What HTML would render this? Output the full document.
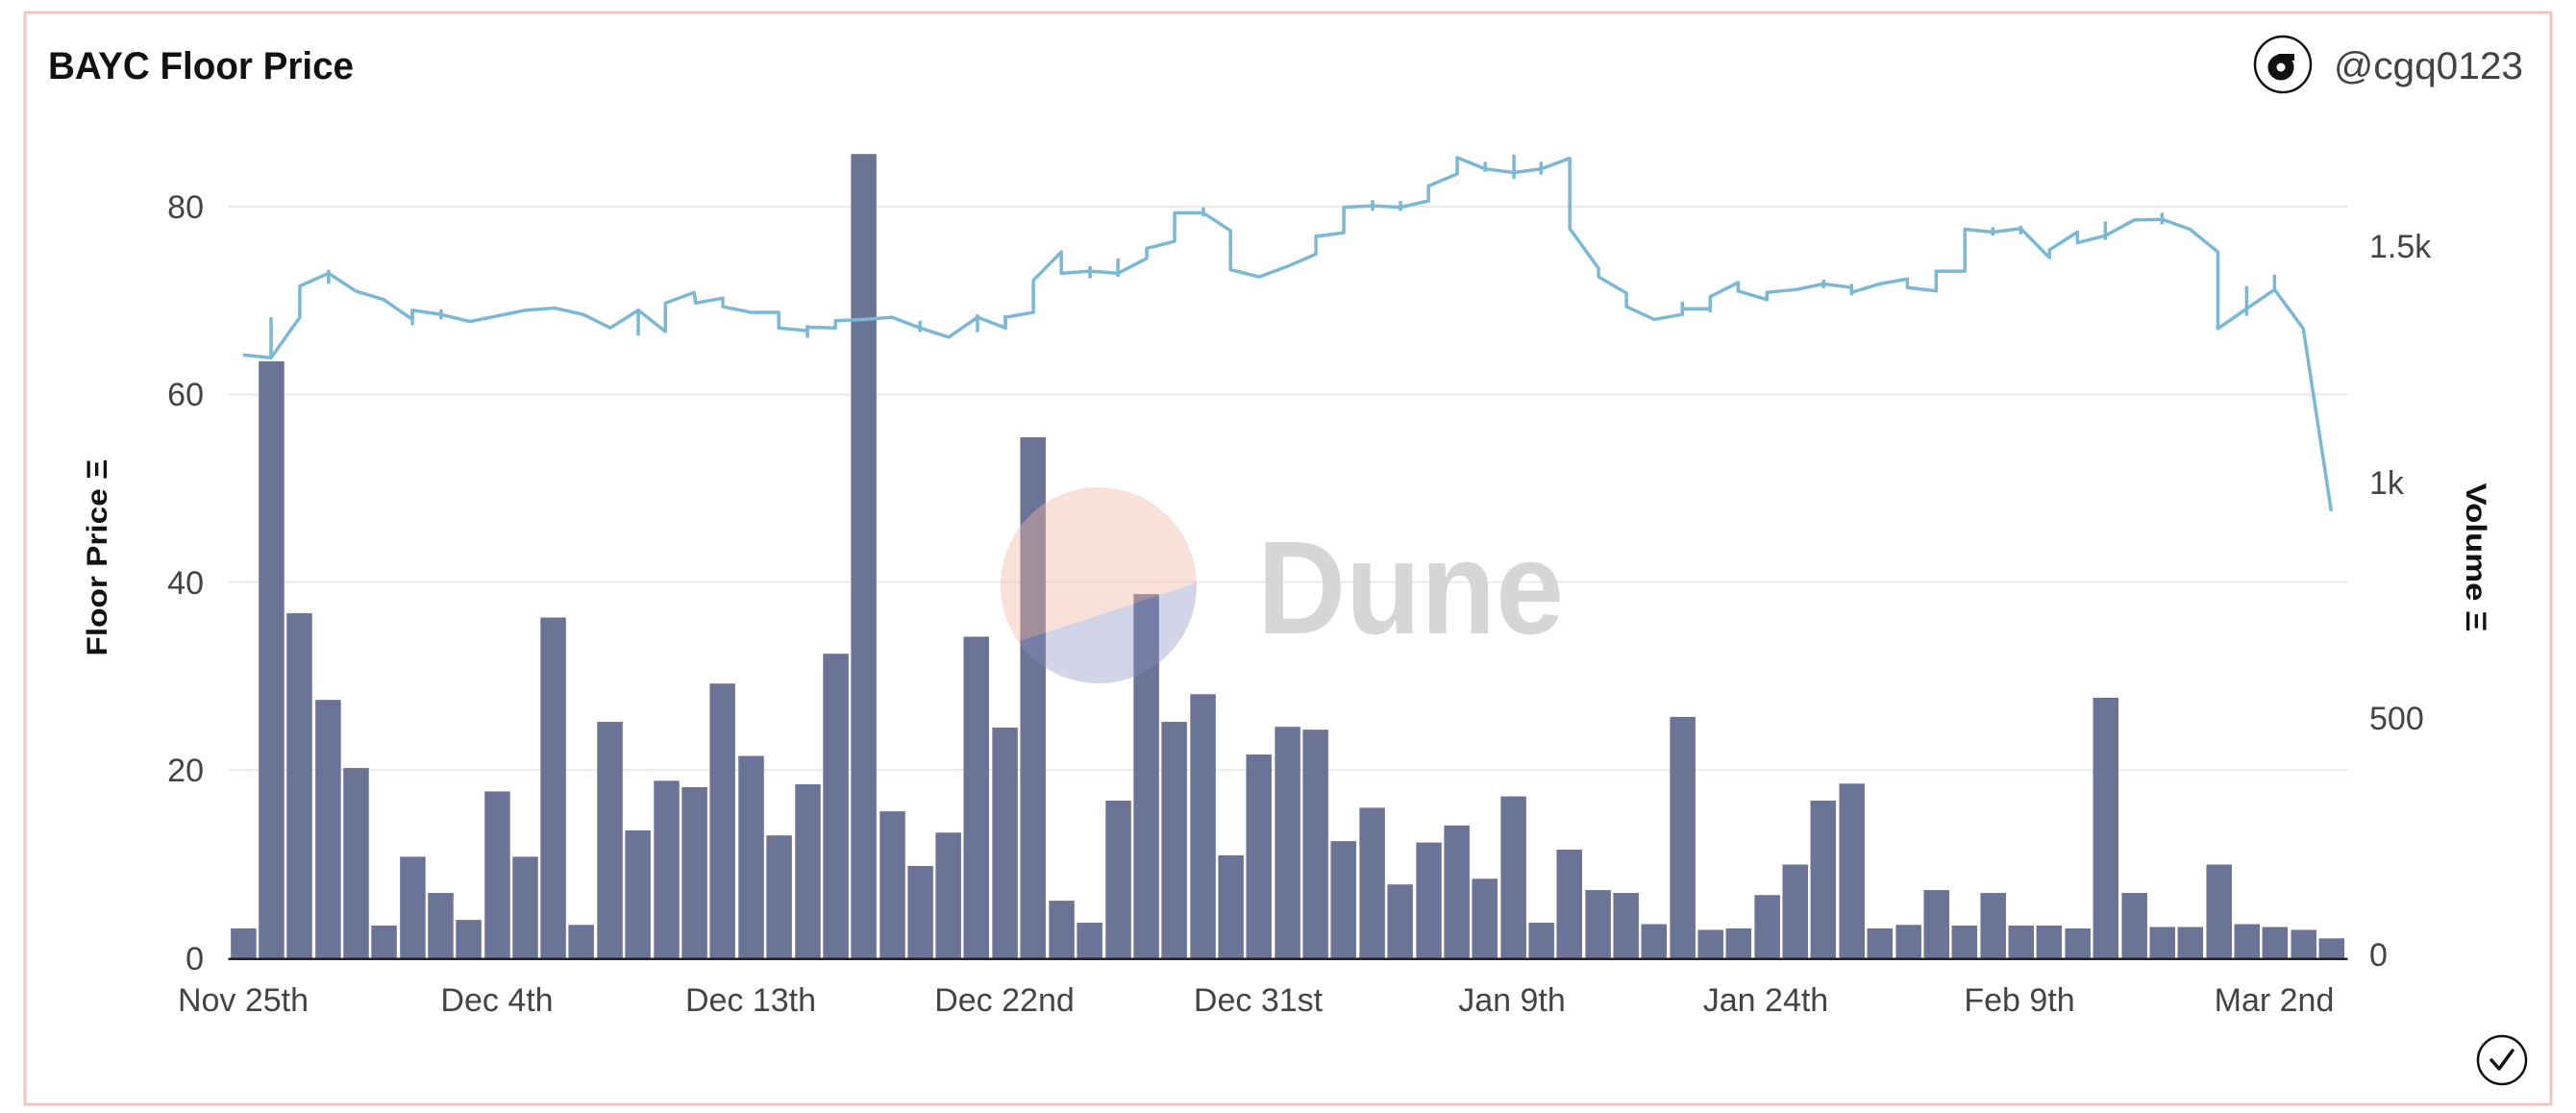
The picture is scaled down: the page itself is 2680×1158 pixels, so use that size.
<!DOCTYPE html>
<html><head><meta charset="utf-8"><style>
html,body{margin:0;padding:0;background:#fff;}
svg{display:block;}
text{font-family:"Liberation Sans",sans-serif;}
</style></head><body>
<svg width="2680" height="1158" viewBox="0 0 2680 1158" xmlns="http://www.w3.org/2000/svg">
<defs>
<clipPath id="cc"><circle cx="1143" cy="609" r="102"/></clipPath>
</defs>
<rect x="26" y="13" width="2628" height="1136" fill="#fff" stroke="#f0c4bc" stroke-width="3"/>
<text x="50" y="82" font-size="40" font-weight="bold" fill="#111" textLength="318" lengthAdjust="spacingAndGlyphs">BAYC Floor Price</text>
<circle cx="2375" cy="67" r="29" fill="#fff" stroke="#111" stroke-width="2.5"/>
<circle cx="2373" cy="70" r="9" fill="none" stroke="#111" stroke-width="9"/>
<rect x="2370" y="56" width="17" height="7" fill="#111"/>
<text x="2428" y="82" font-size="40" fill="#444" textLength="197" lengthAdjust="spacingAndGlyphs">@cgq0123</text>

<g transform="scale(0.8546,0.7385)">
<g stroke="#ebebeb" stroke-width="3">
<line x1="278" y1="291" x2="2858" y2="291"/><line x1="278" y1="556" x2="2858" y2="556"/>
<line x1="278" y1="820" x2="2858" y2="820"/><line x1="278" y1="1085" x2="2858" y2="1085"/>
</g>
<g fill="#6b7396">
<rect x="281" y="1308" width="31" height="42"/><rect x="315" y="509" width="31" height="841"/><rect x="349" y="864" width="31" height="486"/><rect x="384" y="986" width="31" height="364"/><rect x="418" y="1082" width="31" height="268"/><rect x="452" y="1304" width="31" height="46"/><rect x="487" y="1207" width="31" height="143"/><rect x="521" y="1258" width="31" height="92"/><rect x="555" y="1296" width="31" height="54"/><rect x="590" y="1115" width="31" height="235"/><rect x="624" y="1207" width="31" height="143"/><rect x="658" y="870" width="31" height="480"/><rect x="692" y="1303" width="31" height="47"/><rect x="727" y="1017" width="31" height="333"/><rect x="761" y="1170" width="31" height="180"/><rect x="796" y="1100" width="31" height="250"/><rect x="830" y="1109" width="31" height="241"/><rect x="864" y="963" width="31" height="387"/><rect x="899" y="1065" width="31" height="285"/><rect x="933" y="1177" width="31" height="173"/><rect x="968" y="1105" width="31" height="245"/><rect x="1002" y="921" width="31" height="429"/><rect x="1036" y="217" width="31" height="1133"/><rect x="1071" y="1143" width="31" height="207"/><rect x="1105" y="1220" width="31" height="130"/><rect x="1139" y="1173" width="31" height="177"/><rect x="1173" y="897" width="31" height="453"/><rect x="1208" y="1025" width="31" height="325"/><rect x="1242" y="616" width="31" height="734"/><rect x="1277" y="1269" width="31" height="81"/><rect x="1311" y="1300" width="31" height="50"/><rect x="1346" y="1128" width="31" height="222"/><rect x="1380" y="837" width="31" height="513"/><rect x="1414" y="1017" width="31" height="333"/><rect x="1449" y="978" width="31" height="372"/><rect x="1483" y="1205" width="31" height="145"/><rect x="1517" y="1063" width="31" height="287"/><rect x="1552" y="1024" width="31" height="326"/>
<rect x="1586" y="1028" width="31" height="322"/><rect x="1620" y="1185" width="31" height="165"/><rect x="1655" y="1138" width="31" height="212"/><rect x="1689" y="1246" width="31" height="104"/><rect x="1724" y="1187" width="31" height="163"/><rect x="1758" y="1163" width="31" height="187"/><rect x="1792" y="1238" width="31" height="112"/><rect x="1827" y="1122" width="31" height="228"/><rect x="1861" y="1300" width="31" height="50"/><rect x="1895" y="1197" width="31" height="153"/><rect x="1930" y="1254" width="31" height="96"/><rect x="1964" y="1258" width="31" height="92"/><rect x="1998" y="1302" width="31" height="48"/><rect x="2033" y="1010" width="31" height="340"/><rect x="2067" y="1310" width="31" height="40"/><rect x="2101" y="1308" width="31" height="42"/><rect x="2136" y="1261" width="31" height="89"/><rect x="2170" y="1218" width="31" height="132"/><rect x="2204" y="1128" width="31" height="222"/><rect x="2239" y="1104" width="31" height="246"/><rect x="2273" y="1308" width="31" height="42"/><rect x="2308" y="1303" width="31" height="47"/><rect x="2342" y="1254" width="31" height="96"/><rect x="2376" y="1304" width="31" height="46"/><rect x="2411" y="1258" width="31" height="92"/><rect x="2445" y="1304" width="31" height="46"/><rect x="2479" y="1304" width="31" height="46"/><rect x="2514" y="1308" width="31" height="42"/><rect x="2548" y="983" width="31" height="367"/><rect x="2583" y="1258" width="31" height="92"/><rect x="2617" y="1306" width="31" height="44"/><rect x="2651" y="1306" width="31" height="44"/><rect x="2686" y="1218" width="31" height="132"/><rect x="2720" y="1302" width="31" height="48"/><rect x="2754" y="1306" width="31" height="44"/><rect x="2789" y="1310" width="31" height="40"/><rect x="2823" y="1322" width="31" height="28"/>
</g>
<line x1="278" y1="1351" x2="2858" y2="1351" stroke="#222" stroke-width="2.5" vector-effect="non-scaling-stroke"/>
<g fill="none" stroke="#7ab8d6" stroke-width="3.5" vector-effect="non-scaling-stroke" stroke-linejoin="round">
<polyline vector-effect="non-scaling-stroke" points="296,500 330,504 365,447 365,403 400,385 433,410 467,422 502,450 502,437 537,443 572,453 606,445 640,437 675,434 710,443 743,462 777,437 810,467 810,427 845,412 847,427 880,420 880,432 914,440 948,440 948,462 983,466 983,461 1017,462 1017,452 1052,450 1086,447 1120,462 1155,475 1190,447 1224,462 1224,447 1258,440 1258,395 1292,355 1292,385 1327,382 1361,385 1396,364 1396,350 1430,340 1430,300 1465,300 1498,325 1498,380 1533,390 1568,375 1602,358 1602,333 1636,328 1636,292 1671,290 1705,292 1739,283 1739,262 1774,245 1774,222 1808,238 1843,243 1876,238 1911,223 1911,322 1946,378 1946,390 1980,413 1980,432 2014,450 2048,443 2048,435 2082,435 2082,418 2116,398 2116,410 2151,422 2151,412 2186,408 2220,400 2254,405 2254,412 2288,400 2322,393 2322,405 2357,410 2357,382 2392,382 2392,323 2426,327 2460,322 2495,363 2495,352 2529,327 2529,342 2563,332 2598,310 2632,309 2666,323 2700,355 2700,463 2735,435 2769,408 2804,463 2838,720"/>
<path vector-effect="non-scaling-stroke" d="M330 447V504 M400 380V400 M502 437V458 M537 436V450 M777 435V473 M983 458V476 M1120 452V468 M1190 443V468 M1224 444V464 M1327 375V392 M1361 364V390 M1465 292V305 M1671 282V297 M1705 283V297 M1808 228V242 M1843 218V252 M1876 228V246 M2048 425V443 M2082 428V440 M2116 396V412 M2151 410V424 M2220 394V406 M2254 400V416 M2426 320V332 M2460 318V330 M2563 312V338 M2632 300V316 M2735 403V445 M2769 387V410"/>
</g>
</g>

<g font-size="34" fill="#444" text-anchor="end">
<text x="212" y="227">80</text><text x="212" y="422">60</text><text x="212" y="618">40</text><text x="212" y="813">20</text><text x="212" y="1009">0</text>
</g>
<g font-size="34" fill="#444">
<text x="2465" y="268">1.5k</text><text x="2465" y="514">1k</text><text x="2465" y="759">500</text><text x="2465" y="1005">0</text>
</g>
<g font-size="34" fill="#444" text-anchor="middle">
<text x="253" y="1052">Nov 25th</text><text x="517" y="1052">Dec 4th</text><text x="781" y="1052">Dec 13th</text><text x="1045" y="1052">Dec 22nd</text><text x="1309" y="1052">Dec 31st</text><text x="1573" y="1052">Jan 9th</text><text x="1837" y="1052">Jan 24th</text><text x="2101" y="1052">Feb 9th</text><text x="2366" y="1052">Mar 2nd</text>
</g>
<text transform="translate(111,580) rotate(-90)" font-size="30" font-weight="bold" fill="#111" text-anchor="middle" textLength="205" lengthAdjust="spacingAndGlyphs">Floor Price Ξ</text>
<text transform="translate(2566,580) rotate(90)" font-size="30" font-weight="bold" fill="#111" text-anchor="middle" textLength="155" lengthAdjust="spacingAndGlyphs">Volume Ξ</text>

<text x="1308" y="659" font-size="138" font-weight="bold" fill="#d6d6d6" textLength="319" lengthAdjust="spacingAndGlyphs">Dune</text>
<polygon clip-path="url(#cc)" points="1030,500 1260,500 1260,606 1246,606 1061,667 1030,667" fill="#f0b6a4" fill-opacity="0.42"/>
<polygon clip-path="url(#cc)" points="1061,667 1246,606 1260,606 1260,720 1030,720 1030,667" fill="#8a8fbf" fill-opacity="0.38"/>

<circle cx="2603" cy="1103" r="25" fill="#fff" stroke="#111" stroke-width="2.5"/>
<polyline points="2592,1103 2600,1112 2614,1093" fill="none" stroke="#111" stroke-width="3.5" stroke-linecap="round" stroke-linejoin="round"/>
</svg>
</body></html>
